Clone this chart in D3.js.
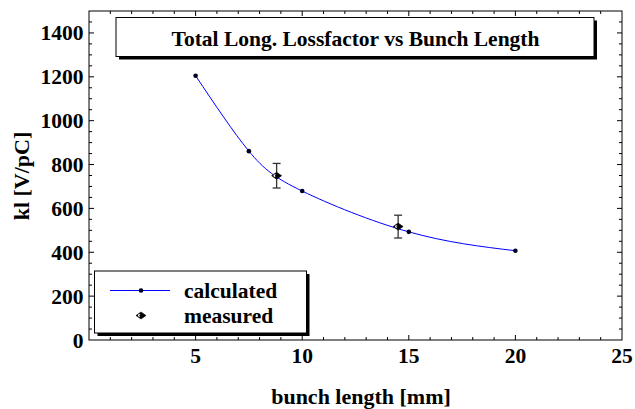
<!DOCTYPE html>
<html><head><meta charset="utf-8">
<script src="https://cdn.jsdelivr.net/npm/d3@7"></script>
<style>body{margin:0;background:#fff}</style>
</head><body><svg id="c" width="635" height="409" font-family="'Liberation Serif', 'Times New Roman', serif" font-weight="bold"></svg>
<script>
const calcX = [5, 7.5, 10, 15, 20];
const calcY = [1205, 861, 679, 493, 407];
const measX = [8.8, 14.5];
const measY = [749, 517];
const measErr = [56, 52];
const xTicks = [5, 10, 15, 20, 25];
const yTicks = [0, 200, 400, 600, 800, 1000, 1200, 1400];
const titleText = "Total Long. Lossfactor vs Bunch Length";
const xLabel = "bunch length [mm]";
const yLabel = "kl [V/pC]";
const legendLabels = ["calculated", "measured"];

const svg = d3.select("#c");
const L = 89, R = 622, T = 11, B = 340;
const x = d3.scaleLinear().domain([0, 25]).range([L, R]);
const y = d3.scaleLinear().domain([0, 1500]).range([B, T]);
const FS = 21.5;

svg.append("rect").attr("x", L).attr("y", T).attr("width", R - L).attr("height", B - T)
  .attr("fill", "none").attr("stroke", "#000").attr("stroke-width", 1);

const g = svg.append("g").attr("stroke", "#000").attr("stroke-width", 1);
d3.range(1, 25, 1).forEach(v => {
  const len = v % 5 === 0 ? 5 : 3;
  g.append("line").attr("x1", x(v)).attr("x2", x(v)).attr("y1", B).attr("y2", B - len);
  g.append("line").attr("x1", x(v)).attr("x2", x(v)).attr("y1", T).attr("y2", T + len);
});
d3.range(50, 1500, 50).forEach(v => {
  const len = v % 200 === 0 ? 5 : 3;
  g.append("line").attr("y1", y(v)).attr("y2", y(v)).attr("x1", L).attr("x2", L + len);
  g.append("line").attr("y1", y(v)).attr("y2", y(v)).attr("x1", R).attr("x2", R - len);
});

svg.append("g").selectAll("text").data(xTicks).join("text")
  .attr("x", d => x(d)).attr("y", B + 22.5).attr("text-anchor", "middle")
  .attr("font-size", FS).text(d => d);
svg.append("g").selectAll("text").data(yTicks).join("text")
  .attr("x", L - 5.5).attr("y", d => y(d) + 7.5).attr("text-anchor", "end")
  .attr("font-size", FS).text(d => d);

svg.append("text").attr("x", 361).attr("y", 404).attr("text-anchor", "middle")
  .attr("font-size", 22).text(xLabel);
svg.append("text").attr("transform", "translate(29,176) rotate(-90)").attr("text-anchor", "middle")
  .attr("font-size", 22).text(yLabel);

const line = d3.line().x(d => x(d[0])).y(d => y(d[1])).curve(d3.curveNatural);
svg.append("path").datum(calcX.map((v, i) => [v, calcY[i]]))
  .attr("d", line).attr("fill", "none").attr("stroke", "#0000ff").attr("stroke-width", 1);
svg.append("g").selectAll("circle").data(calcX.map((v, i) => [v, calcY[i]])).join("circle")
  .attr("cx", d => x(d[0])).attr("cy", d => y(d[1])).attr("r", 2.3).attr("fill", "#000020");

function diamond(sel, cx, cy) {
  sel.append("path").attr("d", `M${cx - 5},${cy} L${cx},${cy - 3.5} L${cx + 5},${cy} L${cx},${cy + 3.5} Z`)
    .attr("fill", "#000").attr("stroke", "#000").attr("stroke-width", 0.6);
  sel.append("ellipse").attr("cx", cx - 1.5).attr("cy", cy).attr("rx", 1.6).attr("ry", 1.4).attr("fill", "#fff");
  sel.append("circle").attr("cx", cx).attr("cy", cy).attr("r", 1.6).attr("fill", "#000");
}
measX.forEach((v, i) => {
  const cx = x(v), cy = y(measY[i]), y1 = y(measY[i] + measErr[i]), y2 = y(measY[i] - measErr[i]);
  const eg = svg.append("g").attr("stroke", "#333").attr("stroke-width", 1.3);
  eg.append("line").attr("x1", cx).attr("x2", cx).attr("y1", y1).attr("y2", y2);
  eg.append("line").attr("x1", cx - 4).attr("x2", cx + 4).attr("y1", y1).attr("y2", y1);
  eg.append("line").attr("x1", cx - 4).attr("x2", cx + 4).attr("y1", y2).attr("y2", y2);
  diamond(svg.append("g"), cx, cy);
});

function shadowBox(x0, y0, w, h, sh) {
  svg.append("rect").attr("x", x0 + sh).attr("y", y0 + sh).attr("width", w).attr("height", h).attr("fill", "#000");
  svg.append("rect").attr("x", x0).attr("y", y0).attr("width", w).attr("height", h)
    .attr("fill", "#fff").attr("stroke", "#000").attr("stroke-width", 1);
}
shadowBox(116, 17.5, 478, 39, 3);
svg.append("text").attr("x", 355.5).attr("y", 45.5).attr("text-anchor", "middle")
  .attr("font-size", FS).text(titleText);

shadowBox(94.5, 271, 212, 62, 3);
svg.append("line").attr("x1", 110).attr("x2", 170).attr("y1", 290.5).attr("y2", 290.5)
  .attr("stroke", "#0000ff").attr("stroke-width", 1);
svg.append("circle").attr("cx", 141).attr("cy", 290.5).attr("r", 2.3).attr("fill", "#000020");
diamond(svg.append("g"), 141, 315.5);
svg.append("text").attr("x", 184).attr("y", 298).attr("font-size", FS).text(legendLabels[0]);
svg.append("text").attr("x", 184).attr("y", 322.5).attr("font-size", FS).text(legendLabels[1]);
</script></body></html>
